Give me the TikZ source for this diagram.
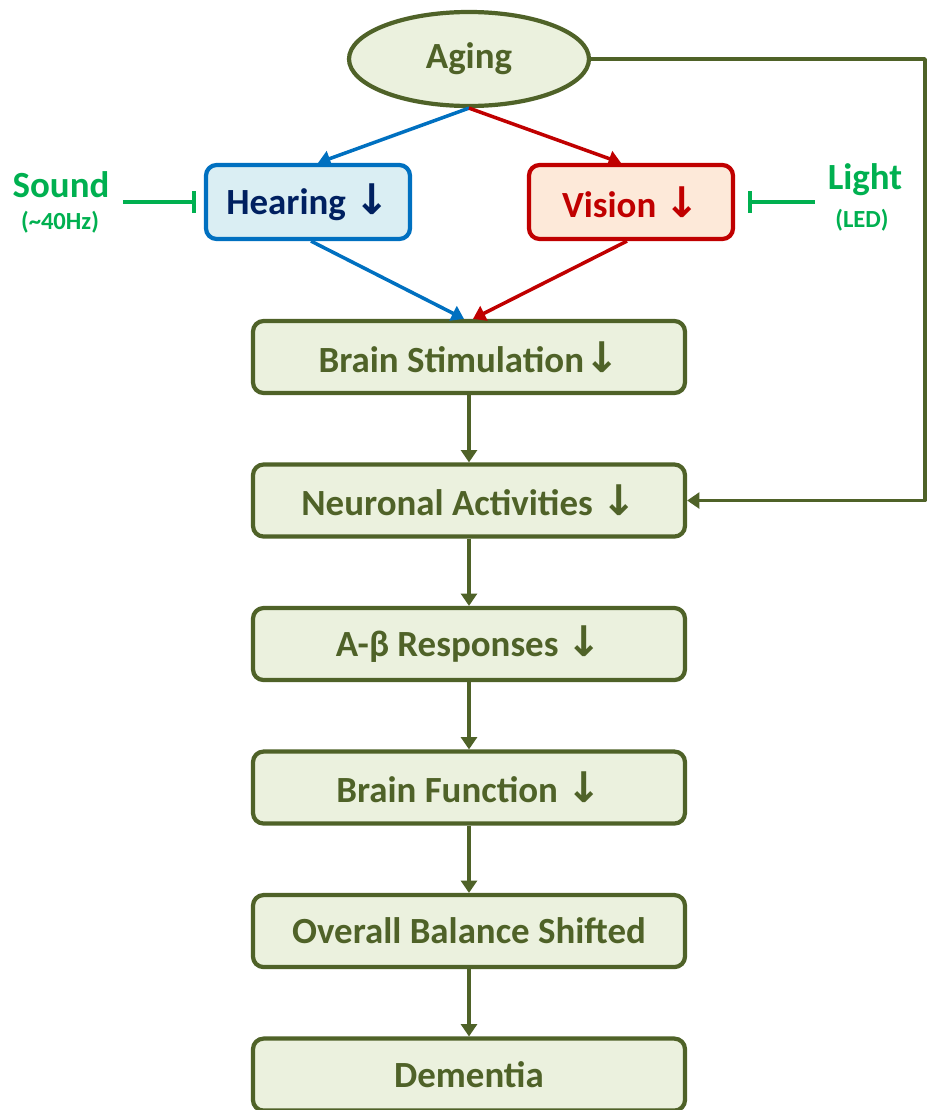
\documentclass[tikz,border=0pt]{standalone}
\usepackage{fontspec}
\setmainfont{Carlito}
\newfontfamily\arrowfont{DejaVu Sans}
\usetikzlibrary{positioning,shapes.geometric,arrows.meta}
\definecolor{oliveline}{HTML}{4F6228}
\definecolor{olivefill}{HTML}{EBF1DE}
\definecolor{hearline}{HTML}{0070C0}
\definecolor{hearfill}{HTML}{DAEEF3}
\definecolor{heartext}{HTML}{002060}
\definecolor{visline}{HTML}{C00000}
\definecolor{visfill}{HTML}{FDE9D9}
\definecolor{stimgreen}{HTML}{00B050}
\newcommand{\dn}{{\arrowfont\bfseries\fontsize{12}{12}\selectfont ↓}}
\begin{document}
\begin{tikzpicture}[font=\bfseries\fontsize{10.5}{12}\selectfont, line join=round, >={Triangle[length=3.5pt,width=4.5pt]},
	box/.style={draw=oliveline, line width=1.2pt, fill=olivefill, text=oliveline, rounded corners=3pt, minimum width=4.32cm, minimum height=0.72cm},
	sense/.style={line width=1.2pt, rounded corners=3pt, minimum width=2.04cm, minimum height=0.74cm},
	link/.style={->, draw=oliveline, line width=1pt},
	stim/.style={text=stimgreen},
	block/.style={-{Bar[width=6pt]}, draw=stimgreen, line width=1.2pt}]
	\useasboundingbox (0,0) rectangle (9.27,11.10);
	\node[ellipse, draw=oliveline, line width=1.2pt, fill=olivefill, text=oliveline, minimum width=2.4cm, minimum height=0.94cm] (aging) at (4.69,10.51) {Aging};
	\node[sense, draw=hearline, fill=hearfill, text=heartext] (hearing) at (3.08,9.08) {Hearing \dn};
	\node[sense, draw=visline, fill=visfill, text=visline] (vision) at (6.31,9.08) {Vision \dn};
	% main chain
	\node[box] (stim) at (4.69,7.53) {Brain Stimulation\dn};
	\node[box, below=0.673cm of stim] (neuro) {Neuronal Activities \dn};
	\node[box, below=0.673cm of neuro] (abeta) {A-β Responses \dn};
	\node[box, below=0.673cm of abeta] (func) {Brain Function \dn};
	\node[box, below=0.673cm of func] (shift) {Overall Balance Shifted};
	\node[box, below=0.673cm of shift] (dementia) {Dementia};
	% stimuli
	\node[stim] (sound) at (0.61,9.25) {Sound};
	\node[stim, font=\bfseries\fontsize{7}{8}\selectfont] (hz) at (0.60,8.88) {(\textasciitilde40Hz)};
	\node[stim] (light) at (8.65,9.30) {Light};
	\node[stim, font=\bfseries\fontsize{7}{8}\selectfont] (led) at (8.62,8.90) {(LED)};
	\coordinate (soundtail) at (1.23,9.08);
	\coordinate (lighttail) at (8.15,9.08);
	\coordinate (turn) at (9.25,10.51);
	\draw[block] (soundtail) -- ([xshift=-0.8mm]hearing.west);
	\draw[block] (lighttail) -- ([xshift=1.3mm]vision.east);
	% arrows
	\draw[->, draw=hearline, line width=1pt] (aging.south) -- ([xshift=1mm]hearing.north);
	\draw[->, draw=visline, line width=1pt] (aging.south) -- ([xshift=-1mm]vision.north);
	\draw[->, draw=hearline, line width=1pt] ([xshift=0.3mm]hearing.south) -- ([xshift=-0.5mm]stim.north);
	\draw[->, draw=visline, line width=1pt] ([xshift=-0.4mm]vision.south) -- ([xshift=0.4mm]stim.north);
	\draw[link] (stim) -- (neuro);
	\draw[link] (neuro) -- (abeta);
	\draw[link] (abeta) -- (func);
	\draw[link] (func) -- (shift);
	\draw[link] (shift) -- (dementia);
	\draw[link] (aging.east) -- (turn) |- (neuro.east);
\end{tikzpicture}
\end{document}
